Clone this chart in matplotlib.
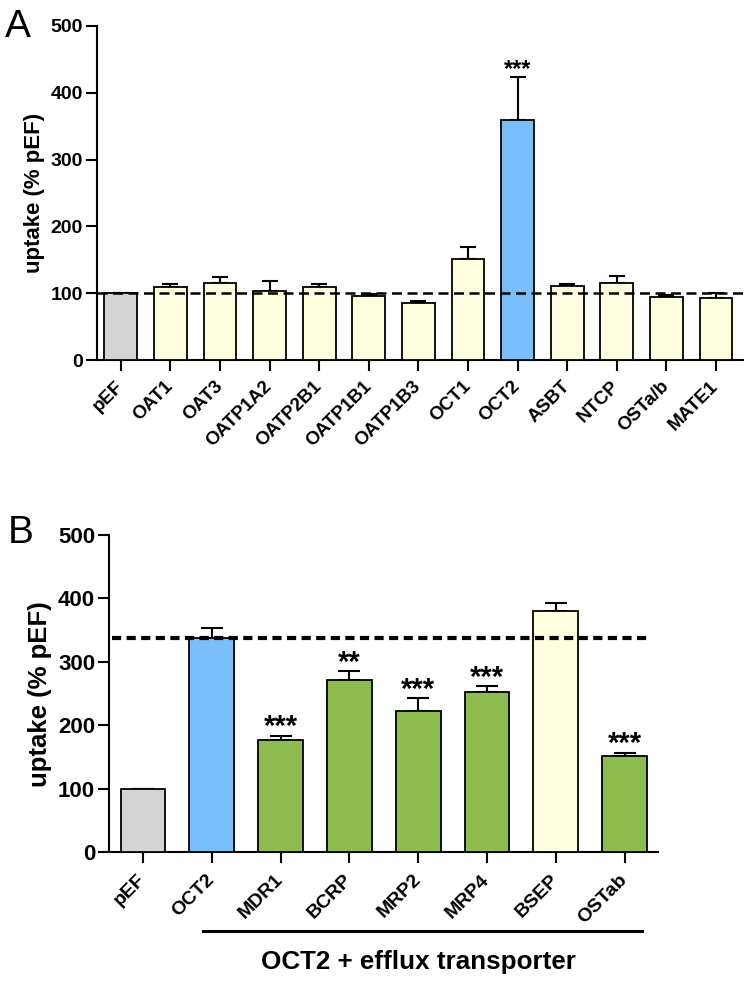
import numpy as np
import matplotlib
matplotlib.use('Agg')
import matplotlib.pyplot as plt
import matplotlib.transforms as mtransforms

plt.rcParams['font.family'] = ['Liberation Sans', 'DejaVu Sans']

# Panel A data: uptake relative to pEF (mean, upper SEM)
labels_a = ['pEF', 'OAT1', 'OAT3', 'OATP1A2', 'OATP2B1', 'OATP1B1', 'OATP1B3',
            'OCT1', 'OCT2', 'ASBT', 'NTCP', 'OSTa/b', 'MATE1']
means_a = [100, 108.8, 115.7, 103, 109.8, 96.3, 85.8, 151, 360, 111.2, 115.7, 94.8, 92.3]
err_a = [0, 5, 8, 15, 4, 2, 2.5, 17.7, 63.6, 2, 10, 3, 8.5]
sig_a = ['', '', '', '', '', '', '', '', '***', '', '', '', '']
colors_a = ['#d4d4d4'] + ['#ffffe0'] * 7 + ['#7bbffa'] + ['#ffffe0'] * 4

# Panel B data
labels_b = ['pEF', 'OCT2', 'MDR1', 'BCRP', 'MRP2', 'MRP4', 'BSEP', 'OSTab']
means_b = [100, 338, 177, 272, 222.5, 252, 380, 151]
err_b = [0, 16, 7, 13, 20, 9.5, 12.6, 6]
sig_b = ['', '', '***', '**', '***', '***', '', '***']
colors_b = ['#d4d4d4', '#7bbffa', '#8fbc4f', '#8fbc4f', '#8fbc4f', '#8fbc4f', '#ffffe0', '#8fbc4f']

ref_a = 100
ref_b = 338


def style_axis(ax, tick_size, lw):
    for side in ['top', 'right']:
        ax.spines[side].set_visible(False)
    for side in ['left', 'bottom']:
        ax.spines[side].set_linewidth(lw)
    ax.tick_params(axis='both', direction='out', length=8, width=lw)
    ax.tick_params(axis='y', labelsize=tick_size, pad=2)
    for t in ax.get_yticklabels():
        t.set_fontweight('bold')


def draw_panel(fig, ax, labels, means, err, sig, colors, ref, cfg):
    x = np.arange(len(labels))
    ax.bar(x, means, width=cfg['bw'], color=colors, edgecolor='black',
           linewidth=1.3, zorder=3)
    ax.errorbar(x, means, yerr=[np.zeros(len(err)), err], fmt='none',
                ecolor='black', elinewidth=1.5, capsize=cfg['cap'],
                capthick=1.5, zorder=2)
    ax.set_xlim(cfg['xlim'])
    ax.set_ylim(0, 500)
    ax.set_yticks([0, 100, 200, 300, 400, 500])
    ax.set_xticks(x)
    ax.set_xticklabels(labels, rotation=45, ha='right', va='center',
                       rotation_mode='anchor', fontsize=cfg['xtick'],
                       fontweight='bold')
    ax.tick_params(axis='x', pad=cfg['xpad'])
    # nudge the rotated labels a little to the right
    shift = mtransforms.ScaledTranslation(3 / 72, 0, fig.dpi_scale_trans)
    for t in ax.get_xticklabels():
        t.set_transform(t.get_transform() + shift)
    style_axis(ax, cfg['ytick'], 1.5)
    ax.set_ylabel('uptake (% pEF)', fontsize=cfg['ylab'], fontweight='bold',
                  labelpad=cfg['ylpad'])
    ax.plot(cfg['ref_x'], [ref, ref], color='black', linewidth=cfg['ref_lw'],
            dashes=cfg['dashes'], zorder=4, clip_on=False)
    for xi, m, e, s in zip(x, means, err, sig):
        if s:
            ax.text(xi, m + e + cfg['star_off'], s, ha='center', va='center',
                    fontsize=cfg['star'], fontweight='bold', zorder=5)


fig = plt.figure(figsize=(7.5, 9.81), dpi=100)

ax_a = fig.add_axes([0.1293, 0.633, 0.861, 0.3405])
cfg_a = dict(bw=0.66, cap=5.5, xlim=(-0.48, 12.54), xtick=13.5, xpad=9,
             ytick=14, ylab=16, ylpad=4, ref_x=[-0.48, 12.54], ref_lw=1.8,
             dashes=(4.0, 2.2), star=17, star_off=11)
draw_panel(fig, ax_a, labels_a, means_a, err_a, sig_a, colors_a, ref_a, cfg_a)

ax_b = fig.add_axes([0.1453, 0.1312, 0.732, 0.3234])
cfg_b = dict(bw=0.65, cap=8, xlim=(-0.494, 7.485), xtick=14, xpad=10,
             ytick=16, ylab=18.5, ylpad=4, ref_x=[-0.45, 7.35], ref_lw=3,
             dashes=(2.2, 1.3), star=21, star_off=13)
draw_panel(fig, ax_b, labels_b, means_b, err_b, sig_b, colors_b, ref_b, cfg_b)

# group bracket under the efflux transporter labels
fig.add_artist(plt.Line2D([203 / 750, 642 / 750], [1 - 930.7 / 981, 1 - 930.7 / 981],
                          color='black', linewidth=2.2))
fig.text(418 / 750, 1 - 962 / 981, 'OCT2 + efflux transporter', ha='center',
         va='center', fontsize=18.7, fontweight='bold')

fig.text(0.007, 1 - 37 / 981, 'A', fontsize=28, ha='left', va='baseline')
fig.text(0.010, 1 - 543 / 981, 'B', fontsize=28, ha='left', va='baseline')

fig.savefig('out.png', dpi=100)
